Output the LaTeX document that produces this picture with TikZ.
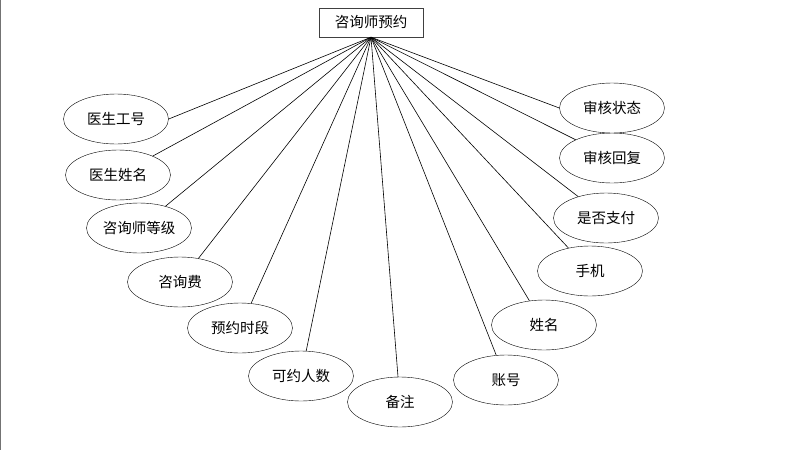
\documentclass[tikz,border=0pt]{standalone}
\usepackage{fontspec}
\newfontfamily\cjk{Noto Sans CJK SC}
\usetikzlibrary{positioning, shapes.geometric}

\begin{document}
\begin{tikzpicture}[
  x=1pt, y=-1pt,
  entity/.style={rectangle, draw=black!75, minimum width=104pt, minimum height=29pt, inner sep=0pt, fill=white},
  attr/.style={ellipse, draw, minimum width=105pt, minimum height=50pt, inner sep=0pt, fill=white},
  link/.style={draw, line width=0.6pt},
  font=\cjk\fontsize{14.5}{17}\selectfont
]
\useasboundingbox (0,0) rectangle (808,450);
\draw[black!55, line width=1pt] (0.5,0) -- (0.5,450);

% Entity
\node[entity] (appt) at (371,22.5) {咨询师预约};

% Attributes, left side
\node[attr] (docid)   at (116,119) {医生工号};
\node[attr] (docname) at (118,175) {医生姓名};
\node[attr] (level)   at (139,228) {咨询师等级};
\node[attr] (fee)     at (180,282) {咨询费};
\node[attr] (period)  at (240,328) {预约时段};
\node[attr] (quota)   at (301,376) {可约人数};
\node[attr] (remark)  at (400,402) {备注};

% Attributes, right side
\node[attr] (account) at (506,380) {账号};
\node[attr] (name)    at (544,325) {姓名};
\node[attr] (phone)   at (590,271) {手机};
\node[attr] (paid)    at (606,218) {是否支付};
\node[attr] (reply)   at (612,158) {审核回复};
\node[attr] (status)  at (612,108) {审核状态};

% Connections to the entity
\draw[link] (appt.south) -- (docid.east);
\draw[link] (appt.south) -- (docname);
\draw[link] (appt.south) -- (level);
\draw[link] (appt.south) -- (fee);
\draw[link] (appt.south) -- (period);
\draw[link] (appt.south) -- (quota);
\draw[link] (appt.south) -- (remark);
\draw[link] (appt.south) -- (account);
\draw[link] (appt.south) -- (name);
\draw[link] (appt.south) -- (phone);
\draw[link] (appt.south) -- (paid);
\draw[link] (appt.south) -- (reply);
\draw[link] (appt.south) -- (status.west);

\end{tikzpicture}
\end{document}
